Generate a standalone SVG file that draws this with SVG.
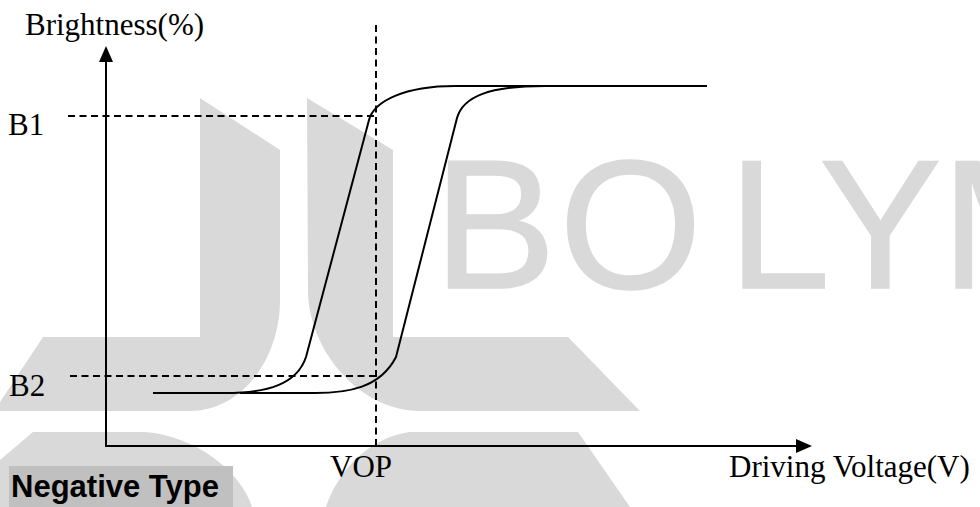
<svg xmlns="http://www.w3.org/2000/svg" width="980" height="507" viewBox="0 0 980 507">
  <defs>
    <style>
      .wm { fill: #d9d9d9; }
      .wmtext { font-family: "Liberation Sans", Arial, sans-serif; font-size: 184px; fill: #d9d9d9; stroke: #d9d9d9; stroke-width: 1.5; }
      .axis { fill: none; stroke: #000; stroke-width: 2; }
      .guide { fill: none; stroke: #000; stroke-width: 2; stroke-dasharray: 7 4.5; }
      .curve { fill: none; stroke: #000; stroke-width: 2; stroke-linejoin: round; }
      .lbl { font-family: "Liberation Serif", "Times New Roman", serif; font-size: 31px; fill: #000; }
      .legend { font-family: "Liberation Sans", Arial, sans-serif; font-size: 31px; font-weight: bold; fill: #000; }
    </style>
    <marker id="arrow" viewBox="0 0 16 14" refX="0" refY="7" markerWidth="16" markerHeight="14" markerUnits="userSpaceOnUse" orient="auto-start-reverse">
      <path d="M0,0 L16,7 L0,14 Z" fill="#000"/>
    </marker>
  </defs>

  <rect x="0" y="0" width="980" height="507" fill="#fff"/>

  <g id="watermark">
    <path class="wm" d="M200,98 L280,150 L280,300 C280,361 240,411 190,411 L-6,411 L43,337 L200,337 Z"/>
    <path class="wm" d="M307,98 L393,150 L393,337 L568,337 L640,411 L420,411 C360,411 308,350 308,290 Z"/>
    <path class="wm" d="M33,432 L145,432 C195,436 240,470 252,507 L-20,507 L0,460 Z"/>
    <path class="wm" d="M410,432 L578,432 L630,507 L326,507 C338,470 370,437 410,432 Z"/>
    <text class="wmtext" x="433.5 559 728 819 941" y="288">BOLYM</text>
  </g>

  <g id="axes">
    <path class="axis" d="M106,62 L106,446 L796,446" marker-start="url(#arrow)" marker-end="url(#arrow)"/>
  </g>

  <g id="guides">
    <path class="guide" d="M68,116 L376,116"/>
    <path class="guide" d="M70,376 L376,376"/>
    <path class="guide" d="M376,25 L376,446"/>
  </g>

  <g id="curves">
    <path id="curve-rise" class="curve" d="M153,393 L225,393 C268,393 297,384 306,357 L369,120 C374,101 405,86 455,86 L707,86"/>
    <path id="curve-fall" class="curve" d="M240,393 L315,393 C348,393 380,388 396,357 L457,118 C463,97 488,86 545,86 L707,86"/>
  </g>

  <g id="labels">
    <text id="label-y" class="lbl" x="25" y="35">Brightness(%)</text>
    <text id="label-b1" class="lbl" x="8" y="135">B1</text>
    <text id="label-b2" class="lbl" x="9" y="396">B2</text>
    <text id="label-vop" class="lbl" x="330" y="477">VOP</text>
    <text id="label-x" class="lbl" x="729" y="477">Driving Voltage(V)</text>
  </g>

  <g id="legend">
    <rect x="9" y="466" width="224" height="41" fill="#c0c0c0"/>
    <text class="legend" x="11" y="497">Negative Type</text>
  </g>
</svg>
